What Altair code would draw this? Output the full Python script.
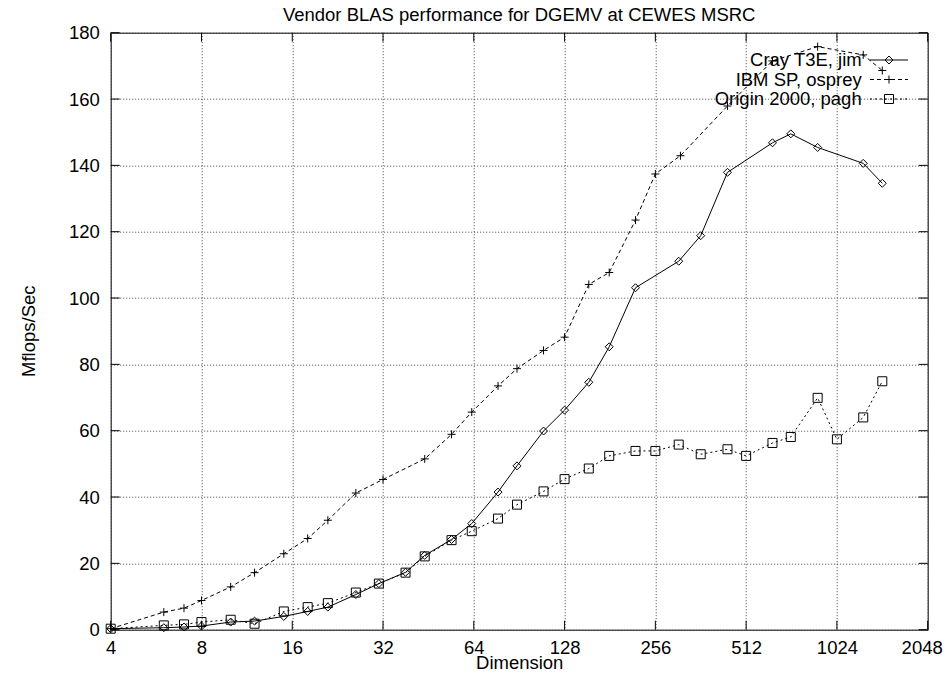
import altair as alt
import pandas as pd

FONT = "Liberation Sans"
FS = 18.5

series_names = ["Cray T3E, jim", "IBM SP, osprey", "Origin 2000, pagh"]

cray_dim = [4, 6, 7, 8, 10, 12, 15, 18, 21, 26, 31, 38, 44, 54, 63, 77, 89, 109, 128, 154,
            180, 220, 306, 362, 444, 626, 720, 884, 1252, 1448]
cray_mflops = [0.3, 0.6, 0.8, 1.1, 2.3, 2.6, 4.0, 5.5, 6.8, 10.6, 13.9, 17.3, 22.4, 27.2, 32.0,
               41.5, 49.4, 59.9, 66.2, 74.6, 85.3, 103.1, 111.1, 118.8, 137.9, 146.8, 149.5,
               145.4, 140.6, 134.6]

ibm_dim = [4, 6, 7, 8, 10, 12, 15, 18, 21, 26, 32, 44, 54, 63, 77, 89, 109, 128, 154, 180,
           220, 256, 310, 444, 626, 884, 1252, 1448]
ibm_mflops = [0.3, 5.3, 6.5, 8.8, 12.9, 17.2, 22.9, 27.5, 33.0, 41.2, 45.3, 51.5, 58.9, 65.6,
              73.5, 78.7, 84.2, 88.2, 104.1, 107.7, 123.5, 137.4, 142.9, 157.9, 171.5, 175.8,
              173.3, 168.6]

origin_dim = [4, 6, 7, 8, 10, 12, 15, 18, 21, 26, 31, 38, 44, 54, 63, 77, 89, 109, 128, 154,
              180, 220, 256, 306, 362, 444, 512, 626, 720, 884, 1024, 1252, 1448]
origin_mflops = [0.3, 1.3, 1.6, 2.3, 3.0, 1.8, 5.5, 6.8, 8.0, 11.2, 13.9, 17.2, 22.1, 27.0,
                 29.7, 33.5, 37.7, 41.7, 45.4, 48.6, 52.4, 53.9, 53.9, 55.8, 52.9, 54.4, 52.4,
                 56.3, 58.1, 69.9, 57.4, 64.0, 74.9]

x_ticks = [4, 8, 16, 32, 64, 128, 256, 512, 1024, 2048]
y_ticks = [0, 20, 40, 60, 80, 100, 120, 140, 160, 180]

W, H = 817, 597
TICK = 9

frames = []
for name, d, v in [(series_names[0], cray_dim, cray_mflops),
                   (series_names[1], ibm_dim, ibm_mflops),
                   (series_names[2], origin_dim, origin_mflops)]:
    frames.append(pd.DataFrame({"series": name, "dim": d, "mflops": v}))
df = pd.concat(frames, ignore_index=True)

xscale = alt.Scale(type="log", base=2, domain=[4, 2048], nice=False)
yscale = alt.Scale(domain=[0, 180], nice=False, zero=False)

xaxis = alt.Axis(values=x_ticks, format="d", labelFont=FONT, labelFontSize=FS, labelColor="black",
                 labelBaseline="alphabetic", labelPadding=24, ticks=False, tickSize=0, domain=False,
                 labelOffset=alt.ConditionalAxisNumber(
                     condition={"test": "datum.value == 2048", "value": -6}, value=0),
                 grid=True, gridDash=[1, 2], gridColor="#444", gridWidth=1,
                 labelFlush=False, labelOverlap=False,
                 title="Dimension", titleFont=FONT, titleFontSize=FS, titleFontWeight="normal",
                 titleColor="black", titleBaseline="alphabetic", titleY=39)
yaxis = alt.Axis(values=y_ticks, labelFont=FONT, labelFontSize=FS, labelColor="black",
                 labelPadding=11.4, ticks=False, tickSize=0, domain=False,
                 grid=True, gridDash=[1, 2], gridColor="#444", gridWidth=1,
                 labelFlush=False, labelOverlap=False,
                 title="Mflops/Sec", titleFont=FONT, titleFontSize=FS, titleFontWeight="normal",
                 titleColor="black", titleBaseline="alphabetic", titleAngle=270,
                 titleX=-76, titleY=298, titleAlign="center")

X = alt.X("dim:Q", scale=xscale, axis=xaxis)
Y = alt.Y("mflops:Q", scale=yscale, axis=yaxis)

styles = {
    series_names[0]: dict(dash=None, shape="diamond", size=64),
    series_names[1]: dict(dash=[4, 3], shape="M-1,0L1,0M0,-1L0,1", size=64),
    series_names[2]: dict(dash=[2, 3], shape="square", size=81),
}

layers = []

for name in series_names:
    st = styles[name]
    base = alt.Chart(df).transform_filter(alt.datum.series == name)
    line_kw = dict(color="black", strokeWidth=1)
    if st["dash"]:
        line_kw["strokeDash"] = st["dash"]
    layers.append(base.mark_line(**line_kw).encode(x=X, y=Y))
    layers.append(base.mark_point(shape=st["shape"], size=st["size"], filled=False,
                                  color="black", strokeWidth=1, opacity=1).encode(x=X, y=Y))

# inward border ticks
xt = pd.DataFrame({"dim": x_ticks})
yt = pd.DataFrame({"mflops": y_ticks})
layers.append(alt.Chart(xt).mark_rule(color="black", strokeWidth=1).encode(
    x=X, y=alt.value(H), y2=alt.value(H - TICK)))
layers.append(alt.Chart(xt).mark_rule(color="black", strokeWidth=1).encode(
    x=X, y=alt.value(0), y2=alt.value(TICK)))
layers.append(alt.Chart(yt).mark_rule(color="black", strokeWidth=1).encode(
    y=Y, x=alt.value(0), x2=alt.value(TICK)))
layers.append(alt.Chart(yt).mark_rule(color="black", strokeWidth=1).encode(
    y=Y, x=alt.value(W), x2=alt.value(W - TICK)))

# legend (gnuplot style: label then sample)
text_y = [33.3, 53.0, 72.8]
line_y = [27.3, 46.8, 66.3]
for i, name in enumerate(series_names):
    st = styles[name]
    ld = pd.DataFrame({"label": [name]})
    layers.append(alt.Chart(ld).mark_text(align="right", baseline="alphabetic", font=FONT,
                                          fontSize=FS, color="black").encode(
        text="label:N", x=alt.value(751), y=alt.value(text_y[i])))
    rule_kw = dict(color="black", strokeWidth=1)
    if st["dash"]:
        rule_kw["strokeDash"] = st["dash"]
    layers.append(alt.Chart(ld).mark_rule(**rule_kw).encode(
        x=alt.value(759.3), x2=alt.value(797.3), y=alt.value(line_y[i])))
    layers.append(alt.Chart(ld).mark_point(shape=st["shape"], size=st["size"], filled=False,
                                           color="black", strokeWidth=1, opacity=1).encode(
        x=alt.value(778.3), y=alt.value(line_y[i])))

chart = alt.layer(*layers).properties(
    width=W, height=H,
    title=alt.TitleParams(text="Vendor BLAS performance for DGEMV at CEWES MSRC", font=FONT,
                          fontSize=FS, fontWeight="normal", color="black", anchor="middle",
                          frame="group", offset=1, dy=2),
    autosize=alt.AutoSizeParams(type="none"),
    padding={"left": 102.7, "top": 24.7, "right": 15, "bottom": 41},
).configure_view(stroke="black", strokeWidth=1)

chart.save("out.html", embed_options={"renderer": "svg", "actions": False})
